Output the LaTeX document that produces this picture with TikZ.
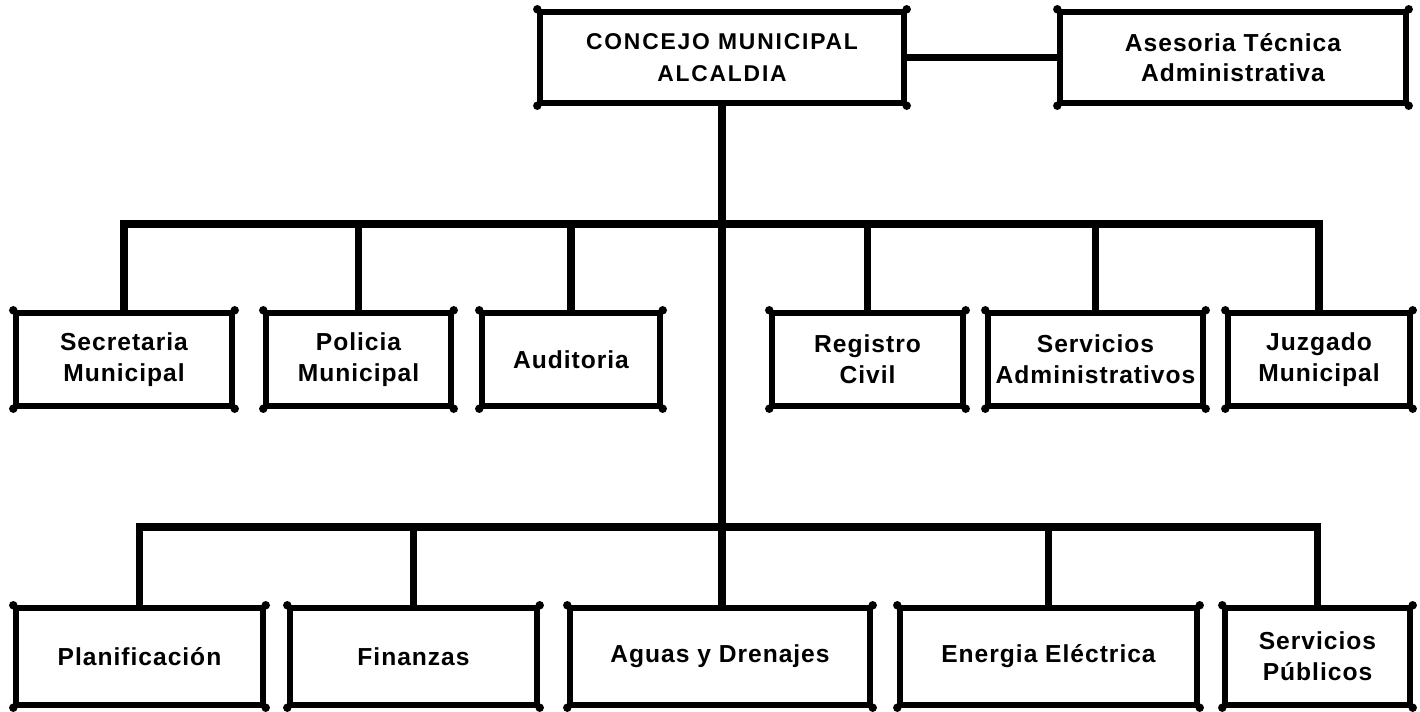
\documentclass[tikz,border=0pt]{standalone}
\usepackage{fontspec}
\setmainfont{Liberation Sans}
\newfontfamily\labfont{Liberation Sans}[LetterSpace=4]
\newfontfamily\topfont{Liberation Sans}[LetterSpace=8]
\begin{document}
\begin{tikzpicture}[x=0.02cm,y=-0.02cm,
  box/.style={draw, line width=3.1pt, rectangle, align=center, inner sep=0pt,
    font=\labfont\bfseries\fontsize{14}{17.5}\selectfont},
  topbox/.style={box, font=\topfont\bfseries\fontsize{13}{18.5}\selectfont},
  link/.style={line width=4.2pt},
  dot/.style={fill=black}
  ]
\useasboundingbox[fill=white] (0,0) rectangle (1420,712);
% top level
\node[topbox, minimum width=7.28cm, minimum height=1.82cm] (concejo) at (722,57.5) {CONCEJO MUNICIPAL\\ALCALDIA};
\node[box, minimum width=6.92cm, minimum height=1.82cm] (asesoria) at (1233,57.5) {Asesoria Técnica\\Administrativa};
% row 1
\node[box, minimum width=4.32cm, minimum height=1.86cm] (sec) at (124,359.5) {Secretaria\\Municipal};
\node[box, minimum width=3.70cm, minimum height=1.86cm] (pol) at (358.5,359.5) {Policia\\Municipal};
\node[box, minimum width=3.56cm, minimum height=1.86cm] (aud) at (571,359.5) {Auditoria};
\node[box, minimum width=3.82cm, minimum height=1.86cm] (reg) at (867.5,359.5) {Registro\\Civil};
\node[box, minimum width=4.30cm, minimum height=1.86cm] (sadm) at (1095.5,359.5) {Servicios\\Administrativos};
\node[box, minimum width=3.64cm, minimum height=1.86cm] (juz) at (1319,359.5) {Juzgado\\Municipal};
% row 2
\node[box, minimum width=4.94cm, minimum height=1.94cm] (plan) at (139.5,656.5) {Planificación};
\node[box, minimum width=4.94cm, minimum height=1.94cm] (fin) at (413.5,656.5) {Finanzas};
\node[box, minimum width=6.00cm, minimum height=1.94cm] (aguas) at (720,656.5) {Aguas y Drenajes};
\node[box, minimum width=5.94cm, minimum height=1.94cm] (ener) at (1048.5,656.5) {Energia Eléctrica};
\node[box, minimum width=3.70cm, minimum height=1.94cm] (spub) at (1317.5,656.5) {Servicios\\Públicos};
% connector coordinates
\coordinate (b1) at (722,224);
\coordinate (b2) at (722,527);
% connectors
\draw[link] (concejo.east) -- (asesoria.west);
\draw[link] (concejo.south) -- (concejo.south |- aguas.north);
\draw[link] (sec.north) |- (b1) -| (juz.north);
\foreach \n in {pol,aud,reg,sadm} \draw[link] (\n.north) -- (\n.north |- b1);
\draw[link] (plan.north) |- (b2) -| (spub.north);
\foreach \n in {fin,ener} \draw[link] (\n.north) -- (\n.north |- b2);
% corner dots
\foreach \n in {concejo,asesoria,sec,pol,aud,reg,sadm,juz,plan,fin,aguas,ener,spub}
  \foreach \c in {north west,north east,south west,south east}
    \fill[dot] (\n.\c) circle (0.085cm);
\end{tikzpicture}
\end{document}
